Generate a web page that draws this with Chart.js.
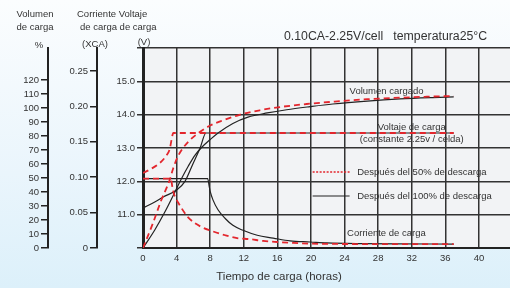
<!DOCTYPE html>
<html>
<head>
<meta charset="utf-8">
<script src="https://cdn.jsdelivr.net/npm/chart.js@4.4.1/dist/chart.umd.min.js"></script>
<style>
  html, body { margin: 0; padding: 0; }
  body {
    width: 510px; height: 288px; overflow: hidden;
    background: linear-gradient(to bottom, #fbfdfe 0%, #eaf5fc 60%, #dcf0fa 100%);
  }
  canvas { display: block; }
</style>
</head>
<body>
<canvas id="chargeChart" width="510" height="288"></canvas>
<script>
// Charge characteristics, 0.10CA - 2.25V/cell, 25°C
const hourTicks = [0, 4, 8, 12, 16, 20, 24, 28, 32, 36, 40];
const voltTicks = [10, 11, 12, 13, 14, 15, 16];
const currentTicks = [0, 0.05, 0.10, 0.15, 0.20, 0.25];
const volumeTicks = [0, 10, 20, 30, 40, 50, 60, 70, 80, 90, 100, 110, 120];

// after 50% discharge (red dashed)
const volt50Hours = [0, 1, 2, 2.8, 3.2, 3.4, 3.6, 37];
const volt50 = [12.25, 12.38, 12.55, 12.78, 12.98, 13.25, 13.45, 13.45];
const cur50Hours = [0, 3.3, 3.5, 3.7, 4.2, 5.4, 6.9, 8.2, 9.8, 11.2, 12.7, 14.3, 16, 17.9, 19.9, 22, 26, 37];
const cur50 = [0.098, 0.098, 0.086, 0.076, 0.064, 0.043, 0.030, 0.024, 0.018, 0.014, 0.0125, 0.010, 0.0085, 0.0072, 0.0062, 0.0058, 0.0056, 0.0055];
const vol50Hours = [0, 1.2, 2.1, 3.2, 3.6, 4.2, 5.4, 6.8, 8, 9.2, 11.5, 13.9, 16.3, 19.5, 22.6, 26.7, 30.6, 33.8, 37];
const vol50 = [0, 18, 33, 49, 57, 66, 76, 83, 87.5, 90.5, 95.2, 98.4, 100.7, 102.9, 104.5, 106.3, 107.4, 108.1, 108.6];

// after 100% discharge (black solid)
const volt100Hours = [0, 1.4, 2.4, 4, 5, 5.9, 6.8, 7.5, 37];
const volt100 = [11.2, 11.38, 11.53, 11.74, 12.0, 12.5, 13.0, 13.45, 13.45];
const cur100Hours = [0, 7.7, 7.9, 8.0, 8.33, 8.93, 9.76, 10.7, 11.9, 13.6, 15.5, 17.5, 19.9, 21.9, 26, 30, 37];
const cur100 = [0.098, 0.098, 0.086, 0.080, 0.068, 0.054, 0.042, 0.032, 0.025, 0.018, 0.014, 0.010, 0.0085, 0.0072, 0.0062, 0.0058, 0.0056];
const vol100Hours = [0, 1.4, 2.6, 3.8, 4.5, 5.4, 6.2, 7, 8, 8.9, 10.7, 12.5, 14.8, 17.1, 19.9, 22.6, 26.7, 30.6, 34.5, 37];
const vol100 = [0, 12.9, 25.7, 40, 48.6, 58.6, 66.4, 72, 77.5, 82, 89, 93.5, 96.5, 98.8, 101, 102.9, 105, 106.5, 107.5, 108];

const FONT = '"Liberation Sans", Arial, Helvetica, sans-serif';
const RED = '#e3262d';
const INK = '#222';

Chart.defaults.font.family = FONT;
Chart.defaults.color = '#333';

const pts = (xs, ys) => xs.map((x, i) => ({ x: x, y: ys[i] }));
const useTicks = list => scale => { scale.ticks = list.map(v => ({ value: v })); };

function redLine(data, axis) {
    return { data: data, yAxisID: axis, borderColor: RED, borderWidth: 1.8, borderDash: [6, 4] };
}
function blackLine(data, axis) {
    return { data: data, yAxisID: axis, borderColor: INK, borderWidth: 1.2 };
}

function text(ctx, str, x, y, align, size) {
    ctx.font = size + 'px ' + FONT;
    ctx.textAlign = align;
    ctx.textBaseline = 'middle';
    ctx.fillText(str, x, y);
}

// plot background, labels and the little legend inside the plot
const decor = {
    id: 'decor',
    beforeDraw(chart) {
        const { ctx, chartArea: a } = chart;
        ctx.save();
        ctx.fillStyle = '#f2f3f5';
        ctx.fillRect(a.left, a.top, a.right - a.left, a.bottom - a.top);
        ctx.restore();
    },
    afterDraw(chart) {
        const { ctx, scales } = chart;
        const X = v => scales.x.getPixelForValue(v);
        const V = v => scales.y.getPixelForValue(v);
        ctx.save();
        ctx.fillStyle = '#333';

        // axis headers
        text(ctx, 'Volumen', 35, 14, 'center', 9.5);
        text(ctx, 'de carga', 35, 27, 'center', 9.5);
        text(ctx, '%', 39, 45, 'center', 9.5);
        text(ctx, 'Corriente Voltaje', 77, 14, 'left', 9.5);
        text(ctx, 'de carga de carga', 80, 27, 'left', 9.5);
        text(ctx, '(XCA)', 95, 44, 'center', 9.5);
        text(ctx, '(V)', 144, 42, 'center', 9.5);
        text(ctx, '0.10CA-2.25V/cell   temperatura25°C', 284, 37, 'left', 12.3);
        text(ctx, 'Tiempo de carga (horas)', 279, 277, 'center', 11.5);

        // curve notes
        text(ctx, 'Volumen cargado', X(24.6), V(14.7), 'left', 9.5);
        text(ctx, 'Voltaje de carga', X(32), V(13.63), 'center', 9.5);
        text(ctx, '(constante 2.25v / celda)', X(32), V(13.27), 'center', 9.5);
        text(ctx, 'Corriente de carga', X(24.3), V(10.45), 'left', 9.5);

        // legend
        text(ctx, 'Después del 50% de descarga', X(25.5), V(12.28), 'left', 9.5);
        text(ctx, 'Después del 100% de descarga', X(25.5), V(11.56), 'left', 9.5);
        ctx.lineWidth = 1.5;
        ctx.strokeStyle = RED;
        ctx.setLineDash([2, 1.5]);
        ctx.beginPath();
        ctx.moveTo(X(20.2), V(12.28));
        ctx.lineTo(X(24.6), V(12.28));
        ctx.stroke();
        ctx.setLineDash([]);
        ctx.lineWidth = 1.2;
        ctx.strokeStyle = INK;
        ctx.beginPath();
        ctx.moveTo(X(20.2), V(11.56));
        ctx.lineTo(X(24.6), V(11.56));
        ctx.stroke();
        ctx.restore();
    }
};

const sideGrid = { color: INK, lineWidth: 1.5, tickLength: 7, drawOnChartArea: false };

const chargeChart = new Chart(document.getElementById('chargeChart'), {
    type: 'line',
    data: {
        datasets: [
            redLine(pts(volt50Hours, volt50), 'y'),
            redLine(pts(cur50Hours, cur50), 'yCur'),
            redLine(pts(vol50Hours, vol50), 'yVol'),
            blackLine(pts(volt100Hours, volt100), 'y'),
            blackLine(pts(cur100Hours, cur100), 'yCur'),
            blackLine(pts(vol100Hours, vol100), 'yVol')
        ]
    },
    options: {
        responsive: false,
        animation: false,
        layout: { padding: { top: 48, right: 0, bottom: 0, left: 0 } },
        elements: {
            point: { radius: 0 },
            line: { cubicInterpolationMode: 'monotone', fill: false }
        },
        plugins: {
            legend: { display: false },
            tooltip: { enabled: false }
        },
        scales: {
            x: {
                type: 'linear',
                min: 0,
                max: 43.7,
                afterBuildTicks: useTicks(hourTicks),
                afterFit: s => { s.height = 40; },
                grid: { color: '#333', lineWidth: 1.5, drawTicks: false },
                border: { color: INK, width: 2 },
                ticks: { padding: 5, maxRotation: 0, font: { size: 9.5 } }
            },
            y: {
                position: 'left',
                weight: 0,
                min: 10,
                max: 16,
                afterBuildTicks: useTicks(voltTicks),
                afterFit: s => { s.width = 46; },
                grid: { color: '#333', lineWidth: 1.5, tickLength: 6 },
                border: { color: INK, width: 3 },
                ticks: {
                    padding: 2,
                    font: { size: 9.5 },
                    callback: v => (v === 10 || v === 16) ? '' : v.toFixed(1)
                }
            },
            yCur: {
                position: 'left',
                weight: 1,
                min: 0,
                max: 0.2825,
                afterBuildTicks: useTicks(currentTicks),
                afterFit: s => { s.width = 49; },
                grid: sideGrid,
                border: { color: INK, width: 2 },
                ticks: {
                    padding: 2,
                    font: { size: 9.5 },
                    callback: v => v === 0 ? '0' : v.toFixed(2)
                }
            },
            yVol: {
                position: 'left',
                weight: 2,
                min: 0,
                max: 142.9,
                afterBuildTicks: useTicks(volumeTicks),
                afterFit: s => { s.width = 48; },
                grid: sideGrid,
                border: { color: INK, width: 2 },
                ticks: { padding: 2, font: { size: 9.5 } }
            }
        }
    },
    plugins: [decor]
});
</script>
</body>
</html>
